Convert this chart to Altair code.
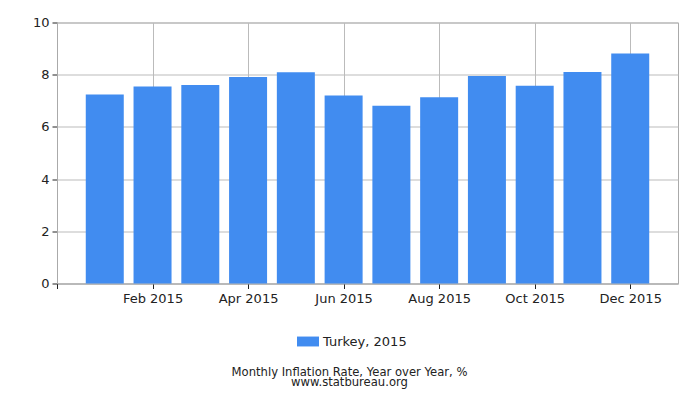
import json
import altair as alt
import pandas as pd

months = ["Jan 2015", "Feb 2015", "Mar 2015", "Apr 2015", "May 2015", "Jun 2015",
          "Jul 2015", "Aug 2015", "Sep 2015", "Oct 2015", "Nov 2015", "Dec 2015"]
values = [7.24, 7.55, 7.61, 7.91, 8.09, 7.20, 6.81, 7.14, 7.95, 7.58, 8.10, 8.81]
series_name = "Turkey, 2015"
title_lines = ["Monthly Inflation Rate, Year over Year, %", "www.statbureau.org"]
y_ticks = [0, 2, 4, 6, 8, 10]

df = pd.DataFrame({
    "month": months,
    "pos": list(range(1, len(months) + 1)),
    "value": values,
    "series": [series_name] * len(months),
})

FONT = "DejaVu Sans"
BAR = "#418cf0"

x_ticks = list(range(0, len(months) + 1, 2))
label_list = json.dumps(months).replace('"', "'")
x_axis = alt.Axis(
    values=x_ticks,
    labelExpr=f"datum.value > 0 ? {label_list}[datum.value - 1] : ''",
    grid=True, gridColor="#bbbbbb", gridWidth=1,
    domainColor="#aaaaaa", tickColor="#222222", tickSize=5,
    labelFont=FONT, labelFontSize=13, labelColor="#222222", labelPadding=4,
    title=None,
)
y_axis = alt.Axis(
    values=y_ticks, grid=True, gridColor="#bbbbbb", gridWidth=1,
    domainColor="#aaaaaa", tickColor="#222222", tickSize=5,
    labelFont=FONT, labelFontSize=13, labelColor="#222222", labelPadding=3,
    title=None,
)

chart = alt.Chart(df).mark_bar(size=38).encode(
    x=alt.X("pos:Q", axis=x_axis,
            scale=alt.Scale(domain=[0, len(months) + 1], nice=False, zero=True, padding=0)),
    y=alt.Y("value:Q", axis=y_axis, scale=alt.Scale(domain=[0, 10], nice=False)),
    color=alt.Color("series:N", scale=alt.Scale(range=[BAR]),
                    legend=alt.Legend(orient="none", legendX=240, legendY=308, title=None,
                                      symbolType="M-1,-0.45L1,-0.45L1,0.45L-1,0.45Z",
                                      symbolSize=484, symbolStrokeWidth=0, symbolOpacity=1,
                                      labelFont=FONT, labelFontSize=13, labelColor="#222222",
                                      labelOffset=4)),
    tooltip=["month:N", "value:Q"],
).properties(
    width=621, height=261,
    autosize=alt.AutoSizeParams(type="none"),
    padding={"left": 49, "top": 14.5, "right": 14, "bottom": 108},
    title=alt.TitleParams(text=title_lines, orient="bottom", anchor="middle", dx=-18,
                          offset=18, font=FONT, fontSize=11.6, fontWeight="normal",
                          color="#222222", lineHeight=10),
).configure_view(stroke="#aaaaaa", strokeWidth=1)

chart.save("out.html", embed_options={"renderer": "svg", "actions": False})
